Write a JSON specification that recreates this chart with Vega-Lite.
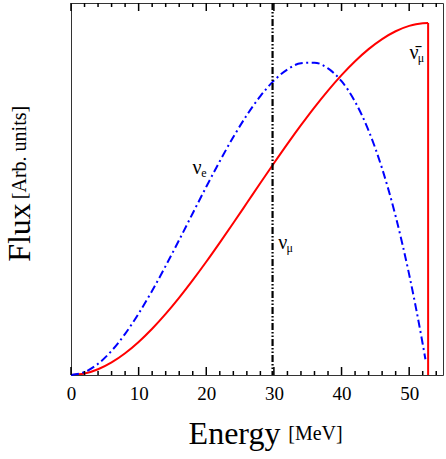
{
  "$schema": "https://vega.github.io/schema/vega-lite/v6.json",
  "width": 372,
  "height": 372,
  "autosize": {"type": "none"},
  "padding": {"left": 71, "top": 3, "right": 3, "bottom": 84},
  "background": "white",
  "config": {
    "view": {"stroke": "#333333", "strokeWidth": 1},
    "font": "Liberation Serif",
    "axis": {"grid": false, "titleFont": "Liberation Serif", "labelFont": "Liberation Serif", "titleFontWeight": "normal", "titleColor": "black", "labelColor": "black"}
  },
  "datasets": {
    "red": [
      {"E": 0, "F": 0}, {"E": 2, "F": 0.0042}, {"E": 4, "F": 0.0163}, {"E": 6, "F": 0.0358},
      {"E": 8, "F": 0.0619}, {"E": 10, "F": 0.094}, {"E": 12, "F": 0.1315}, {"E": 14, "F": 0.1736},
      {"E": 16, "F": 0.2198}, {"E": 18, "F": 0.2694}, {"E": 20, "F": 0.3217}, {"E": 22, "F": 0.3762},
      {"E": 24, "F": 0.432}, {"E": 26, "F": 0.4886}, {"E": 28, "F": 0.5454}, {"E": 30, "F": 0.6016},
      {"E": 32, "F": 0.6567}, {"E": 34, "F": 0.7099}, {"E": 36, "F": 0.7607}, {"E": 38, "F": 0.8083},
      {"E": 40, "F": 0.8522}, {"E": 42, "F": 0.8916}, {"E": 44, "F": 0.9259}, {"E": 46, "F": 0.9545},
      {"E": 48, "F": 0.9767}, {"E": 50, "F": 0.9919}, {"E": 51, "F": 0.9966}, {"E": 52, "F": 0.9993},
      {"E": 52.8, "F": 1.0}
    ],
    "blue": [
      {"E": 0, "F": 0}, {"E": 2, "F": 0.0083}, {"E": 4, "F": 0.0318}, {"E": 6, "F": 0.0687},
      {"E": 8, "F": 0.1169}, {"E": 10, "F": 0.1745}, {"E": 12, "F": 0.2395}, {"E": 14, "F": 0.31},
      {"E": 16, "F": 0.384}, {"E": 18, "F": 0.4596}, {"E": 20, "F": 0.5348}, {"E": 22, "F": 0.6076},
      {"E": 24, "F": 0.6762}, {"E": 26, "F": 0.7385}, {"E": 28, "F": 0.7925}, {"E": 30, "F": 0.8364},
      {"E": 32, "F": 0.8682}, {"E": 34, "F": 0.8859}, {"E": 36, "F": 0.8875}, {"E": 38, "F": 0.8711},
      {"E": 40, "F": 0.8348}, {"E": 42, "F": 0.7766}, {"E": 44, "F": 0.6945}, {"E": 46, "F": 0.5865},
      {"E": 48, "F": 0.4508}, {"E": 50, "F": 0.2853}, {"E": 51, "F": 0.1908}, {"E": 52, "F": 0.0882},
      {"E": 52.4, "F": 0.0448}
    ],
    "numu": [{"E": 29.8}],
    "edge": [{"E": 52.8, "F0": 0, "F1": 1.0}],
    "ticks": [
      {"E": 0, "L0": 0, "L1": 0.0227, "T0": 1.057, "T1": 1.0343},
      {"E": 2, "L0": 0, "L1": 0.0114, "T0": 1.057, "T1": 1.0456},
      {"E": 4, "L0": 0, "L1": 0.0114, "T0": 1.057, "T1": 1.0456},
      {"E": 6, "L0": 0, "L1": 0.0114, "T0": 1.057, "T1": 1.0456},
      {"E": 8, "L0": 0, "L1": 0.0114, "T0": 1.057, "T1": 1.0456},
      {"E": 10, "L0": 0, "L1": 0.0227, "T0": 1.057, "T1": 1.0343},
      {"E": 12, "L0": 0, "L1": 0.0114, "T0": 1.057, "T1": 1.0456},
      {"E": 14, "L0": 0, "L1": 0.0114, "T0": 1.057, "T1": 1.0456},
      {"E": 16, "L0": 0, "L1": 0.0114, "T0": 1.057, "T1": 1.0456},
      {"E": 18, "L0": 0, "L1": 0.0114, "T0": 1.057, "T1": 1.0456},
      {"E": 20, "L0": 0, "L1": 0.0227, "T0": 1.057, "T1": 1.0343},
      {"E": 22, "L0": 0, "L1": 0.0114, "T0": 1.057, "T1": 1.0456},
      {"E": 24, "L0": 0, "L1": 0.0114, "T0": 1.057, "T1": 1.0456},
      {"E": 26, "L0": 0, "L1": 0.0114, "T0": 1.057, "T1": 1.0456},
      {"E": 28, "L0": 0, "L1": 0.0114, "T0": 1.057, "T1": 1.0456},
      {"E": 30, "L0": 0, "L1": 0.0227, "T0": 1.057, "T1": 1.0343},
      {"E": 32, "L0": 0, "L1": 0.0114, "T0": 1.057, "T1": 1.0456},
      {"E": 34, "L0": 0, "L1": 0.0114, "T0": 1.057, "T1": 1.0456},
      {"E": 36, "L0": 0, "L1": 0.0114, "T0": 1.057, "T1": 1.0456},
      {"E": 38, "L0": 0, "L1": 0.0114, "T0": 1.057, "T1": 1.0456},
      {"E": 40, "L0": 0, "L1": 0.0227, "T0": 1.057, "T1": 1.0343},
      {"E": 42, "L0": 0, "L1": 0.0114, "T0": 1.057, "T1": 1.0456},
      {"E": 44, "L0": 0, "L1": 0.0114, "T0": 1.057, "T1": 1.0456},
      {"E": 46, "L0": 0, "L1": 0.0114, "T0": 1.057, "T1": 1.0456},
      {"E": 48, "L0": 0, "L1": 0.0114, "T0": 1.057, "T1": 1.0456},
      {"E": 50, "L0": 0, "L1": 0.0227, "T0": 1.057, "T1": 1.0343},
      {"E": 52, "L0": 0, "L1": 0.0114, "T0": 1.057, "T1": 1.0456},
      {"E": 54, "L0": 0, "L1": 0.0114, "T0": 1.057, "T1": 1.0456}
    ],
    "labels": [
      {"E": 18.63, "F": 0.570, "main": "ν", "sub": "e"},
      {"E": 31.3, "F": 0.3567, "main": "ν", "sub": "μ"},
      {"E": 50.71, "F": 0.8988, "main": "ν̄", "sub": "μ"}
    ]
  },
  "layer": [
    {
      "data": {"name": "red"},
      "mark": {"type": "line", "color": "#ff0000", "strokeWidth": 2, "interpolate": "monotone", "clip": true},
      "encoding": {
        "x": {
          "field": "E", "type": "quantitative",
          "scale": {"domain": [0, 55], "nice": false, "zero": false},
          "axis": {
            "orient": "bottom", "values": [0, 10, 20, 30, 40, 50], "ticks": false, "domain": false,
            "labelFontSize": 19, "labelPadding": 9, "labelFlush": false,
            "title": "Energy", "titleFontSize": 32, "titleX": 163, "titleY": 68,
            "titleAlign": "center", "titleBaseline": "alphabetic", "titleAnchor": null
          }
        },
        "y": {
          "field": "F", "type": "quantitative",
          "scale": {"domain": [0, 1.057], "nice": false, "zero": false},
          "axis": {
            "orient": "left", "ticks": false, "labels": false, "domain": false,
            "title": "Flux", "titleFontSize": 32, "titleAngle": -90, "titleX": -42, "titleY": 229,
            "titleAlign": "center", "titleBaseline": "alphabetic", "titleAnchor": null
          }
        }
      }
    },
    {
      "data": {"name": "blue"},
      "mark": {"type": "line", "color": "#0000ff", "strokeWidth": 2, "interpolate": "monotone", "strokeDash": [8, 3.5, 2, 3.5]},
      "encoding": {
        "x": {"field": "E", "type": "quantitative", "axis": null},
        "y": {"field": "F", "type": "quantitative", "axis": null}
      }
    },
    {
      "data": {"name": "numu"},
      "mark": {"type": "rule", "color": "black", "strokeWidth": 2.2, "strokeDash": [7, 2, 1.5, 2, 1.5, 2]},
      "encoding": {
        "x": {"field": "E", "type": "quantitative", "axis": null}
      }
    },
    {
      "data": {"name": "edge"},
      "mark": {"type": "rule", "color": "#ff0000", "strokeWidth": 2},
      "encoding": {
        "x": {"field": "E", "type": "quantitative", "axis": null},
        "y": {"field": "F0", "type": "quantitative", "axis": null},
        "y2": {"field": "F1"}
      }
    },
    {
      "data": {"name": "ticks"},
      "mark": {"type": "rule", "color": "black", "strokeWidth": 1.5},
      "encoding": {
        "x": {"field": "E", "type": "quantitative", "axis": null},
        "y": {"field": "L0", "type": "quantitative", "axis": null},
        "y2": {"field": "L1"}
      }
    },
    {
      "data": {"name": "ticks"},
      "mark": {"type": "rule", "color": "black", "strokeWidth": 1.5},
      "encoding": {
        "x": {"field": "E", "type": "quantitative", "axis": null},
        "y": {"field": "T0", "type": "quantitative", "axis": null},
        "y2": {"field": "T1"}
      }
    },
    {
      "data": {"name": "labels"},
      "mark": {"type": "text", "fontSize": 20, "align": "center", "baseline": "alphabetic", "color": "black", "font": "Liberation Serif"},
      "encoding": {
        "x": {
          "field": "E", "type": "quantitative",
          "axis": {
            "orient": "bottom", "ticks": false, "labels": false, "domain": false,
            "title": "[MeV]", "titleFontSize": 20, "titleX": 244, "titleY": 64,
            "titleAlign": "center", "titleBaseline": "alphabetic", "titleAnchor": null
          }
        },
        "y": {
          "field": "F", "type": "quantitative",
          "axis": {
            "orient": "left", "ticks": false, "labels": false, "domain": false,
            "title": "[Arb. units]", "titleFontSize": 20, "titleAngle": -90, "titleX": -46, "titleY": 149,
            "titleAlign": "center", "titleBaseline": "alphabetic", "titleAnchor": null
          }
        },
        "text": {"field": "main"}
      }
    },
    {
      "data": {"name": "labels"},
      "mark": {"type": "text", "fontSize": 12, "align": "center", "baseline": "alphabetic", "color": "black", "dx": 7, "dy": 3, "font": "Liberation Serif"},
      "encoding": {
        "x": {"field": "E", "type": "quantitative", "axis": null},
        "y": {"field": "F", "type": "quantitative", "axis": null},
        "text": {"field": "sub"}
      }
    }
  ],
  "resolve": {"axis": {"x": "independent", "y": "independent"}}
}
